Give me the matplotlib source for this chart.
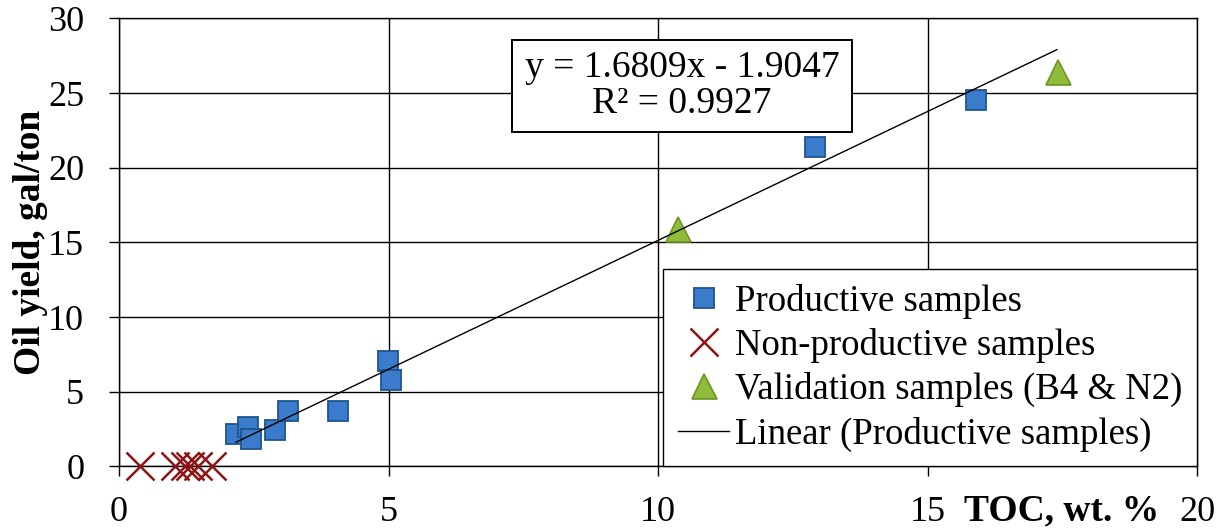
import numpy as np
import matplotlib.pyplot as plt
from matplotlib.patches import Rectangle

plt.rcParams['font.family'] = ['Liberation Serif', 'DejaVu Serif']

# TOC (wt. %) vs oil yield (gal/ton)
prod_toc = [2.17, 2.40, 2.45, 2.89, 3.14, 4.06, 4.99, 5.05, 12.91, 15.90]
prod_oil = [2.18, 2.63, 1.84, 2.44, 3.74, 3.74, 7.08, 5.79, 21.4, 24.55]

nonprod_toc = [0.39, 1.04, 1.22, 1.32, 1.47, 1.72]
nonprod_oil = [0, 0, 0, 0, 0, 0]

valid_toc = [10.37, 17.42]
valid_oil = [15.9, 26.4]

# equation as printed on the chart
eq_text = 'y = 1.6809x - 1.9047\nR\u00b2 = 0.9927'
trend_end = 17.4   # excel forecast forward

xticks = [0, 5, 10, 15, 20]
yticks = [0, 5, 10, 15, 20, 25, 30]

fig = plt.figure(figsize=(12.27, 5.31), dpi=100)
ax = fig.add_axes([0.097, 0.1215, 0.8786, 0.8437])

ax.grid(True, color='black', linewidth=1.0, zorder=0)
ax.set_axisbelow(True)

ax.plot(prod_toc, prod_oil, ls='none', marker='s', markersize=14.5,
        markerfacecolor='#3b7bcb', markeredgecolor='#1f548f', markeredgewidth=1.3,
        label='Productive samples', zorder=3)
ax.plot(nonprod_toc, nonprod_oil, ls='none', marker='x', markersize=20,
        markeredgewidth=1.8, color='#8b1414', label='Non-productive samples',
        zorder=3, clip_on=False)
ax.plot(valid_toc, valid_oil, ls='none', marker='^', markersize=18,
        markerfacecolor='#8fbc3a', markeredgecolor='#6d9526', markeredgewidth=1.2,
        label='Validation samples (B4 & N2)', zorder=3)

# linear fit of productive samples
p = np.polyfit(prod_toc, prod_oil, 1)
tx = np.array([min(prod_toc), trend_end])
ax.plot(tx, np.polyval(p, tx), color='black', linewidth=1.0,
        label='Linear (Productive samples)', zorder=4)

ax.set_xlim(0, 20)
ax.set_ylim(0, 30)
ax.set_xticks(xticks)
ax.set_yticks(yticks)
ax.tick_params(direction='out', length=7, width=1, labelsize=26)
ax.tick_params(axis='x', pad=14)
ax.tick_params(axis='y', pad=18)
for s in ax.spines.values():
    s.set_linewidth(1.0)

ax.set_ylabel('Oil yield, gal/ton', fontsize=27, fontweight='bold', labelpad=0)
ax.text(17.48, -2.95, 'TOC, wt. %', fontsize=27, fontweight='bold',
        ha='center', va='center', clip_on=False)

ax.add_patch(Rectangle((0.3646, 0.7467), 0.3154, 0.2053, transform=ax.transAxes,
                       facecolor='white', edgecolor='black', linewidth=1.4, zorder=5))
ax.text(0.5223, 0.849, eq_text, fontsize=27, transform=ax.transAxes,
        ha='center', va='center', linespacing=1.05, zorder=6)

leg = ax.legend(loc='lower right', borderaxespad=0, fontsize=26.5, frameon=True,
                fancybox=False, edgecolor='black', framealpha=1,
                handlelength=1.4, handletextpad=0.15, labelspacing=0.25,
                borderpad=0.4)
leg.get_frame().set_linewidth(1.0)
leg.set_zorder(7)

fig.savefig('out.png', dpi=100)
